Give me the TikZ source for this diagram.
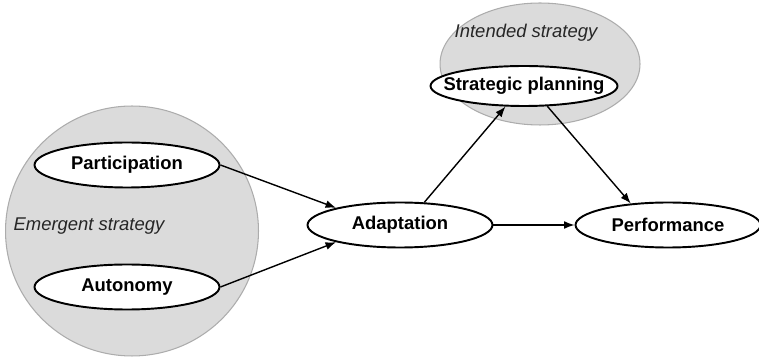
\documentclass[tikz,border=0pt]{standalone}
\usepackage{fontspec}
\setmainfont{Liberation Sans}
\usepackage{tikz}
\usetikzlibrary{arrows.meta, shapes.geometric}

\begin{document}
\begin{tikzpicture}[x=0.02cm, y=-0.02cm, >={Latex[length=6pt,width=4.5pt]},
  region/.style={ellipse, fill=gray!28, draw=gray!65, line width=0.6pt},
  factor/.style={ellipse, draw, fill=white, line width=1.1pt, inner sep=0pt,
    minimum width=3.7cm, minimum height=0.9cm,
    font=\fontsize{10.5}{12}\selectfont\bfseries},
  tag/.style={font=\fontsize{10.5}{12}\selectfont\itshape, text=black!85},
  link/.style={->, line width=0.8pt}]

\useasboundingbox (0,0) rectangle (759,357);

% -------------------------------------------------------
% 1. Shaded strategy regions
% -------------------------------------------------------
\node[region, minimum width=5.06cm, minimum height=5cm] (emergent) at (132,231) {};
\node[region, minimum width=4cm, minimum height=2.44cm] (intended) at (540,64) {};
\node[tag] (emergentlbl) at (89,226) {Emergent strategy};
\node[tag] (intendedlbl) at (526,33) {Intended strategy};

% -------------------------------------------------------
% 2. Factors
% -------------------------------------------------------
\node[factor] (part) at (127,165) {Participation};
\node[factor] (auto) at (127,287) {Autonomy};
\node[factor] (adapt) at (400,225) {Adaptation};
\node[factor] (perf) at (668,225) {Performance};
% tight ellipse round the wider label
\node[factor, inner xsep=-0.29cm, minimum width=3.74cm, minimum height=0.8cm] (plan) at (524,86) {Strategic planning};

% -------------------------------------------------------
% 3. Paths
% -------------------------------------------------------
\draw[link] (part.east) -- (adapt.165);
\draw[link] (auto.east) -- (adapt.195);
\draw[link] (adapt.43) -- (plan.228);
\draw[link] (plan.319) -- (perf.150);
\draw[link] (adapt.east) -- (perf.west);

\end{tikzpicture}
\end{document}
